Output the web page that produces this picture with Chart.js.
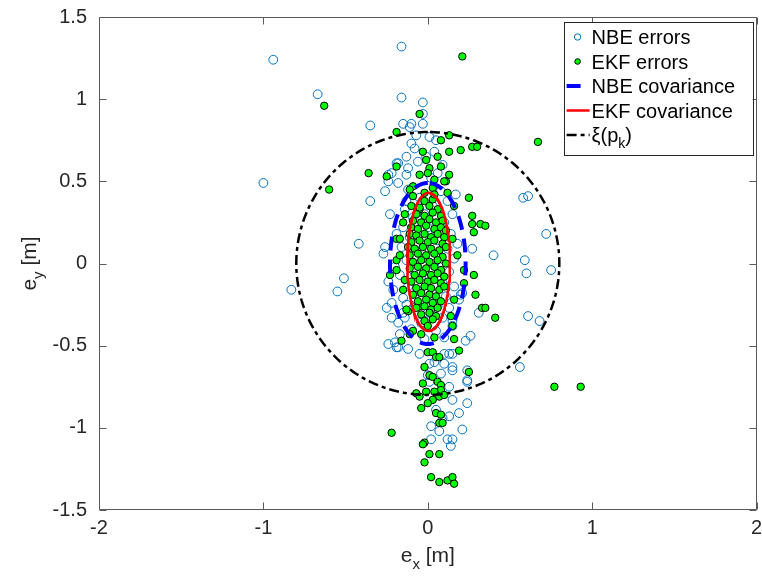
<!DOCTYPE html>
<html><head><meta charset="utf-8">
<script src="https://cdn.jsdelivr.net/npm/chart.js@4"></script>
<style>html,body{margin:0;padding:0;background:#fff}</style>
</head><body>
<canvas id="c" width="762" height="582" style="width:762px;height:582px;display:block"></canvas>
<script>
// ---------- data ----------
const xTicks = [-2, -1, 0, 1, 2];
const xTickLabels = ['-2', '-1', '0', '1', '2'];
const yTicks = [-1.5, -1, -0.5, 0, 0.5, 1, 1.5];
const yTickLabels = ['-1.5', '-1', '-0.5', '0', '0.5', '1', '1.5'];

const nbeErrors = [
[-0.94,1.24],[-0.16,1.32],[-0.67,1.03],[-1.00,0.49],[-0.35,0.84],[-0.16,1.01],[-0.03,0.98],[-0.03,0.91],
[-0.15,0.85],[-0.10,0.85],[-0.03,0.85],[-0.11,0.83],[-0.07,0.78],[0.01,0.77],[0.05,0.75],[-0.10,0.73],
[-0.13,0.65],[-0.18,0.61],[-0.12,0.58],[-0.13,0.54],[-0.24,0.54],[-0.24,0.50],[-0.18,0.49],[-0.26,0.44],
[-0.35,0.38],[-0.23,0.30],[-0.42,0.12],[-0.26,0.10],[-0.27,0.06],[-0.51,-0.09],[-0.83,-0.16],[-0.55,-0.17],
[-0.24,-0.11],[-0.21,-0.16],[-0.22,-0.24],[-0.25,-0.27],[-0.22,-0.33],[-0.24,-0.49],[-0.19,-0.51],[-0.22,0.55],
[-0.19,0.61],[-0.01,0.65],[0.06,0.55],
[0.58,0.40],[0.61,0.41],[0.72,0.18],[0.59,0.02],[0.60,-0.06],[0.75,-0.04],[0.61,-0.32],[0.68,-0.35],
[0.56,-0.63],[0.27,0.09],[0.40,0.05],[0.31,-0.30],[0.20,-0.19],[0.26,-0.44],[0.23,-0.47],[0.15,-0.55],
[0.15,-0.65],[0.24,-0.72],[0.15,-0.35],
[-0.20,-0.48],[-0.12,-0.52],[-0.05,-0.55],[0.13,-0.55],[0.21,-0.18],[0.15,-0.63],[0.04,-0.60],[-0.18,-0.51],
[0.10,-0.55],[0.01,-0.61],[0.10,-0.61],[0.00,-0.68],[0.08,-0.67],[0.13,-0.75],[0.01,-0.72],[0.15,-0.83],
[0.24,-0.85],[0.05,-0.89],[0.13,-0.93],[0.19,-0.91],[0.02,-0.99],[0.07,-1.02],[0.21,-1.01],[0.12,-1.07],
[0.15,-1.07],[0.14,-1.11],[0.02,-1.07],[0.24,-0.65],[0.24,-0.71],[-0.15,-0.30],[-0.13,-0.25],[0.09,-0.94],
[-0.12,0.45],[0.08,0.44],[-0.05,0.40],[0.12,0.38],[-0.14,0.33],[0.03,0.35],[0.15,0.30],[-0.09,0.28],
[0.10,0.25],[-0.15,0.22],[0.00,0.22],[0.14,0.18],[-0.11,0.16],[0.06,0.14],[-0.16,0.10],[0.12,0.09],
[-0.04,0.08],[0.16,0.03],[-0.13,0.02],[0.04,0.00],[-0.09,-0.04],[0.13,-0.05],[-0.17,-0.07],[0.01,-0.09],
[0.09,-0.12],[-0.12,-0.14],[0.16,-0.14],[-0.05,-0.17],[0.11,-0.20],[-0.15,-0.21],[0.03,-0.23],[-0.09,-0.27],
[0.13,-0.27],[0.00,-0.30],[-0.14,-0.33],[0.09,-0.33],[-0.04,-0.36],[0.15,-0.38],[-0.10,-0.40],[0.05,-0.41],
[-0.17,-0.43],[0.10,-0.45],[-0.02,-0.46],[-0.07,0.12],[0.07,-0.02],[-0.02,0.30],[0.05,0.18],[-0.08,-0.21],
[0.06,-0.26],[-0.13,0.38],[0.18,0.12],[0.19,-0.22],[-0.19,0.18],[-0.20,-0.02],[0.17,0.42],[-0.18,-0.36],
[-0.06,0.62],[0.04,0.68],[-0.08,0.70],[0.09,0.60],[0.02,0.52]
];

const ekfErrors = [
[0.21,1.26],[0.67,0.74],[0.77,-0.75],[0.93,-0.75],[-0.63,0.96],[-0.36,0.55],[-0.25,0.53],[-0.60,0.45],
[-0.19,0.80],[-0.19,0.59],[-0.23,-0.07],[-0.22,-1.03],[-0.19,0.02],[-0.19,-0.04],[-0.19,0.15],
[-0.05,0.91],[0.13,0.78],[0.08,0.75],[-0.03,0.68],[0.13,0.68],[0.20,0.69],[0.27,0.71],[0.30,0.71],
[-0.01,0.63],[0.06,0.65],[0.01,0.58],[0.08,0.59],[-0.05,0.54],[0.00,0.55],[0.13,0.54],[0.11,0.50],
[0.04,0.51],[0.03,0.46],[-0.09,0.47],[-0.11,0.45],[0.25,0.40],[0.16,0.35],[0.12,0.43],[0.10,0.50],[-0.09,0.41],
[0.27,0.29],[0.27,0.24],[0.28,0.19],[0.32,0.24],[0.35,0.23],[0.28,-0.07],[0.22,-0.12],[0.29,-0.19],
[0.33,-0.27],[0.35,-0.27],[0.41,-0.33],[0.25,-0.66],[0.22,-0.04],[0.16,-0.46],[0.19,-0.53],
[-0.10,0.35],[-0.14,0.30],[-0.05,0.33],[-0.17,0.15],[-0.15,-0.16],[-0.12,-0.29],[-0.05,-0.26],
[0.15,-0.38],[-0.09,-0.41],[-0.11,-0.43],[-0.04,-0.43],[-0.16,-0.47],[0.04,-0.45],[0.00,-0.54],[0.03,-0.54],
[0.05,-0.57],[0.07,-0.57],[-0.02,-0.63],[0.01,-0.68],[0.03,-0.69],[0.06,-0.72],[0.08,-0.74],[0.08,-0.77],
[-0.03,-0.73],[-0.07,-0.79],[-0.05,-0.81],[-0.01,-0.78],[0.04,-0.78],[0.07,-0.81],[0.10,-0.80],[0.03,-0.83],
[0.00,-0.85],[-0.04,-0.88],[0.05,-0.91],[0.08,-0.92],[0.07,-0.97],[0.09,-0.97],[-0.02,-1.09],[-0.03,-1.10],
[0.01,-1.16],[0.07,-1.16],[-0.02,-1.21],[0.02,-1.30],[0.07,-1.33],[0.12,-1.32],[0.15,-1.30],[0.16,-1.34],
[-0.02,0.38],[0.03,0.39],[-0.05,0.34],[0.01,0.35],[0.06,0.33],[-0.07,0.30],[-0.02,0.29],[0.03,0.31],[0.08,0.29],
[-0.09,0.26],[-0.04,0.25],[0.01,0.27],[0.05,0.25],[0.09,0.26],[-0.10,0.22],[-0.06,0.21],[-0.01,0.23],
[0.04,0.21],[0.08,0.22],[0.11,0.20],[-0.11,0.18],[-0.07,0.17],[-0.02,0.18],[0.02,0.16],[0.06,0.18],
[0.10,0.16],[-0.10,0.13],[-0.05,0.14],[0.00,0.13],[0.04,0.14],[0.09,0.12],[-0.12,0.10],[-0.08,0.09],
[-0.03,0.10],[0.02,0.09],[0.07,0.08],[0.11,0.10],[-0.11,0.05],[-0.06,0.06],[-0.01,0.05],[0.04,0.06],
[0.09,0.04],[-0.09,0.01],[-0.04,0.02],[0.01,0.01],[0.06,0.02],[0.11,0.00],[-0.11,-0.03],[-0.06,-0.02],
[-0.01,-0.03],[0.04,-0.02],[0.08,-0.04],[-0.08,-0.07],[-0.03,-0.06],[0.02,-0.07],[0.06,-0.06],[0.10,-0.08],
[-0.10,-0.11],[-0.05,-0.10],[0.00,-0.11],[0.04,-0.10],[0.08,-0.12],[-0.07,-0.15],[-0.02,-0.14],[0.02,-0.15],
[0.07,-0.16],[0.10,-0.14],[-0.09,-0.19],[-0.04,-0.18],[0.01,-0.19],[0.05,-0.20],[-0.06,-0.23],[-0.01,-0.22],
[0.03,-0.24],[0.08,-0.23],[-0.07,-0.27],[-0.02,-0.26],[0.02,-0.28],[0.06,-0.27],[-0.04,-0.31],[0.01,-0.30],
[0.05,-0.32],[-0.02,-0.35],[0.03,-0.34],[0.00,-0.38],
[-0.15,0.25],[0.15,0.15],[-0.14,-0.10],[0.16,-0.22],[-0.17,0.05],[0.18,0.05],[-0.13,-0.28],[0.14,-0.32],
[-0.02,0.43],[0.04,0.42]
];

// covariance ellipses / circle: centre and semi-axes [x, y] in metres
const nbeCovCenter = [0.0, 0.0];
const nbeCovRadii = [0.23, 0.49];
const ekfCovCenter = [0.005, 0.01];
const ekfCovRadii = [0.13, 0.42];
const xiCenter = [0.0, 0.0];
const xiRadii = [0.8, 0.8];

// ---------- helpers ----------
function ellipsePoints(c, r) {
  const pts = [];
  const n = 240;
  for (let i = 0; i <= n; i++) {
    const t = Math.PI / 2 + 2 * Math.PI * i / n;
    pts.push({x: c[0] + r[0] * Math.cos(t), y: c[1] + r[1] * Math.sin(t)});
  }
  return pts;
}
const toXY = arr => arr.map(p => ({x: p[0], y: p[1]}));

const FONT = '"Liberation Sans", Arial, Helvetica, sans-serif';
const AXIS_COLOR = '#5a5a5a';
const TEXT_COLOR = '#262626';

const NBE_BLUE = '#0072BD';
const EKF_GREEN = '#00FF00';

// ---------- plugins ----------
function drawParts(ctx, parts, x, y, size, align) {
  const subSize = Math.round(size * 0.72);
  let total = 0;
  parts.forEach(p => { ctx.font = (p.sub ? subSize : size) + 'px ' + FONT; total += ctx.measureText(p.t).width; });
  let cx = align === 'center' ? x - total / 2 : x;
  parts.forEach(p => {
    ctx.font = (p.sub ? subSize : size) + 'px ' + FONT;
    ctx.fillText(p.t, cx, p.sub ? y + size * 0.32 : y);
    cx += ctx.measureText(p.t).width;
  });
}

const framePlugin = {
  id: 'frame',
  afterDraw(chart) {
    const {ctx, chartArea: a, scales: {x, y}} = chart;
    ctx.save();
    ctx.strokeStyle = AXIS_COLOR;
    ctx.lineWidth = 1;
    const L = Math.round(a.left) + 0.5, R = Math.round(a.right) - 0.5;
    const T = Math.round(a.top) + 0.5, B = Math.round(a.bottom) - 0.5;
    ctx.beginPath();
    ctx.rect(L, T, R - L, B - T);
    const tl = 7;
    xTicks.forEach(v => {
      const px = Math.round(x.getPixelForValue(v)) + 0.5;
      ctx.moveTo(px, B); ctx.lineTo(px, B - tl);
      ctx.moveTo(px, T); ctx.lineTo(px, T + tl);
    });
    yTicks.forEach(v => {
      const py = Math.round(y.getPixelForValue(v)) + 0.5;
      ctx.moveTo(L, py); ctx.lineTo(L + tl, py);
      ctx.moveTo(R, py); ctx.lineTo(R - tl, py);
    });
    ctx.stroke();

    // axis titles
    ctx.fillStyle = TEXT_COLOR;
    ctx.textBaseline = 'alphabetic';
    ctx.textAlign = 'left';
    drawParts(ctx, [{t:'e'},{t:'x',sub:true},{t:' [m]'}], (a.left + a.right) / 2, 562, 21, 'center');
    ctx.save();
    ctx.translate(36, (a.top + a.bottom) / 2);
    ctx.rotate(-Math.PI / 2);
    drawParts(ctx, [{t:'e'},{t:'y',sub:true},{t:' [m]'}], 0, 0, 21, 'center');
    ctx.restore();

    // legend
    const ds = chart.data.datasets;
    const bx = a.right - 193, by = a.top + 5, bw = 189, bh = 133;
    ctx.fillStyle = '#fff';
    ctx.fillRect(bx, by, bw, bh);
    ctx.strokeStyle = '#262626';
    ctx.lineWidth = 1;
    ctx.strokeRect(Math.round(bx) + 0.5, Math.round(by) + 0.5, bw, bh);
    const rows = [
      {ds: ds[0], type: 'pt', r: 3.2, parts: [{t:'NBE errors'}]},
      {ds: ds[1], type: 'pt', r: 2.8, parts: [{t:'EKF errors'}]},
      {ds: ds[2], type: 'ln', parts: [{t:'NBE covariance'}]},
      {ds: ds[3], type: 'ln', parts: [{t:'EKF covariance'}]},
      {ds: ds[4], type: 'ln', parts: [{t:'\u03BE(p'},{t:'k',sub:true},{t:')'}]}
    ];
    rows.forEach((row, i) => {
      const cy = by + 15 + 24.5 * i;
      const d = row.ds;
      if (row.type === 'pt') {
        ctx.beginPath();
        ctx.arc(bx + 14, cy, row.r, 0, 2 * Math.PI);
        if (d.backgroundColor && d.backgroundColor !== 'rgba(0,0,0,0)') { ctx.fillStyle = d.backgroundColor; ctx.fill(); }
        ctx.strokeStyle = d.borderColor; ctx.lineWidth = 1; ctx.stroke();
      } else {
        ctx.save();
        ctx.beginPath();
        ctx.strokeStyle = d.borderColor;
        ctx.lineWidth = d.borderWidth;
        ctx.setLineDash(d.borderDash || []);
        ctx.moveTo(bx + 3, cy); ctx.lineTo(bx + 26, cy);
        ctx.stroke();
        ctx.restore();
      }
      ctx.fillStyle = '#000';
      ctx.textBaseline = 'alphabetic';
      drawParts(ctx, row.parts, bx + 28, cy + 7, 20, 'left');
    });
    ctx.restore();
  }
};

// ---------- chart ----------
new Chart(document.getElementById('c'), {
  type: 'scatter',
  data: {
    datasets: [
      {label: 'NBE errors', data: toXY(nbeErrors), order: 5,
       pointRadius: 4.4, pointBorderWidth: 1, borderColor: NBE_BLUE, pointBorderColor: NBE_BLUE,
       backgroundColor: 'rgba(0,0,0,0)', pointBackgroundColor: 'rgba(0,0,0,0)'},
      {label: 'EKF errors', data: toXY(ekfErrors), order: 4,
       pointRadius: 3.7, pointBorderWidth: 1, borderColor: '#000', pointBorderColor: '#000',
       backgroundColor: EKF_GREEN, pointBackgroundColor: EKF_GREEN},
      {label: 'NBE covariance', data: ellipsePoints(nbeCovCenter, nbeCovRadii), order: 3,
       showLine: true, pointRadius: 0, borderColor: '#0000FF', borderWidth: 4, borderDash: [14, 9], fill: false, tension: 0},
      {label: 'EKF covariance', data: ellipsePoints(ekfCovCenter, ekfCovRadii), order: 2,
       showLine: true, pointRadius: 0, borderColor: '#FF0000', borderWidth: 2.5, fill: false, tension: 0},
      {label: '\u03BE(p_k)', data: ellipsePoints(xiCenter, xiRadii), order: 1,
       showLine: true, pointRadius: 0, borderColor: '#000000', borderWidth: 2.5, borderDash: [10, 4, 4, 4], fill: false, tension: 0}
    ]
  },
  options: {
    responsive: false,
    animation: false,
    devicePixelRatio: 1,
    layout: {padding: {left: 0, right: 5, top: 17, bottom: 0}},
    plugins: {legend: {display: false}, tooltip: {enabled: false}},
    scales: {
      x: {
        type: 'linear', min: -2, max: 2,
        grid: {display: false, drawTicks: false}, border: {display: false},
        afterBuildTicks: s => { s.ticks = xTicks.map(v => ({value: v})); },
        ticks: {padding: 6, color: TEXT_COLOR, font: {family: FONT, size: 20}, maxRotation: 0, autoSkip: false,
                callback: v => xTickLabels[xTicks.indexOf(v)]},
        afterFit: s => { s.height = 72; s.paddingLeft = 0; s.paddingRight = 0; }
      },
      y: {
        type: 'linear', min: -1.5, max: 1.5,
        grid: {display: false, drawTicks: false}, border: {display: false},
        afterBuildTicks: s => { s.ticks = yTicks.map(v => ({value: v})); },
        ticks: {padding: 12, color: TEXT_COLOR, font: {family: FONT, size: 20}, autoSkip: false,
                callback: v => yTickLabels[yTicks.indexOf(v)]},
        afterFit: s => { s.width = 99; s.paddingTop = 0; s.paddingBottom = 0; }
      }
    }
  },
  plugins: [framePlugin]
});
</script>
</body></html>
